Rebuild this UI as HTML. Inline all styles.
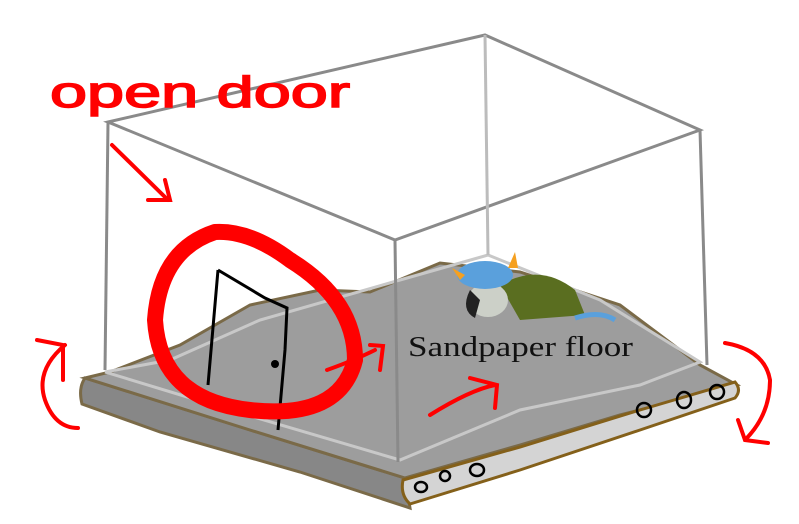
<!DOCTYPE html>
<html><head><style>
html,body{margin:0;padding:0;background:#fff;}
svg{display:block;}
</style></head><body>
<svg width="799" height="524" viewBox="0 0 799 524" xmlns="http://www.w3.org/2000/svg">
<!-- left slab -->
<path d="M85,378 Q78,388 82,404 L160,432 L300,472 L410,508 L405,478 L250,430 Z" fill="#878787" stroke="#7a6a48" stroke-width="3"/>
<!-- floor top -->
<path d="M85,378 L110,372 L180,345 L250,305 L320,290 L370,292 L440,263 L520,272 L620,305 L700,365 L737,385 L620,415 L520,445 L405,478 L250,430 Z" fill="#9d9d9d" stroke="#7a6a48" stroke-width="3"/>
<!-- light inner edges -->
<path d="M105,372 L170,360 L260,320 L400,280 L488,255 L600,300 L700,362 L640,385 L520,410 L400,460 L230,410 L105,372" fill="none" stroke="#c8c8c8" stroke-width="3"/>
<!-- right slab -->
<path d="M403,480 L520,447 L640,410 L735,382 Q742,390 735,398 L640,430 L520,470 L410,504 Q400,495 403,480 Z" fill="#d4d4d4" stroke="#84601a" stroke-width="3"/>
<g fill="none" stroke="#000" stroke-width="2.5">
<ellipse cx="421" cy="487" rx="6" ry="5"/><ellipse cx="445" cy="476" rx="5" ry="5"/><ellipse cx="477" cy="470" rx="7" ry="6"/>
<ellipse cx="644" cy="410" rx="7" ry="7"/><ellipse cx="684" cy="400" rx="7" ry="8"/><ellipse cx="717" cy="392" rx="7" ry="7"/>
</g>
<!-- glass box -->
<g fill="none" stroke="#8a8a8a" stroke-width="3">
<path d="M108,122 L485,35 L700,130 L395,240 Z"/>
<path d="M108,122 L105,370"/>
<path d="M395,240 L398,462"/>
<path d="M700,130 L707,365"/>
</g>
<path d="M485,35 L488,255" stroke="#bcbcbc" stroke-width="3"/>
<!-- character -->
<path d="M500,285 Q540,262 575,290 L585,315 L520,320 Z" fill="#5a6e20"/>
<path d="M575,318 Q600,310 615,320" stroke="#5aa0dc" stroke-width="5" fill="none"/>
<ellipse cx="488" cy="300" rx="20" ry="17" fill="#ccd0c8"/>
<path d="M470,290 Q460,310 475,318 L480,300 Z" fill="#222"/>
<ellipse cx="485" cy="275" rx="28" ry="14" fill="#5aa0dc"/>
<path d="M452,268 L465,275 L460,280Z M515,252 L508,268 L518,268Z" fill="#f5a020"/>
<!-- door -->
<path d="M218,270 L208,385 M218,270 L265,298 L287,308 L285,350 L278,430" fill="none" stroke="#000" stroke-width="3"/>
<circle cx="275" cy="364" r="4" fill="#000"/>
<!-- red -->
<g fill="none" stroke="#f00" stroke-linecap="round">
<path d="M215,232 Q160,250 155,320 Q160,400 250,410 Q340,420 355,360 Q355,300 290,260 Q250,230 215,232 Z" stroke-width="16"/>
<path d="M112,145 L168,200 M148,200 L170,200 L165,180" stroke-width="4"/>
<path d="M327,370 Q355,360 375,350 M370,345 L383,346 L380,370" stroke-width="4"/>
<path d="M430,415 Q470,390 495,385 M470,378 L497,385 L495,408" stroke-width="4"/>
<path d="M65,345 Q35,370 45,400 Q55,428 78,428 M37,340 L63,345 L63,380" stroke-width="4"/>
<path d="M725,343 Q765,350 770,380 Q770,415 745,440 M738,420 L745,440 L768,443" stroke-width="4"/>
</g>
<text x="50" y="107" font-family="'Liberation Sans',sans-serif" font-size="44" fill="#f00" stroke="#f00" stroke-width="1.5" textLength="300" lengthAdjust="spacingAndGlyphs">open door</text>
<text x="408" y="356" font-family="'Liberation Serif',serif" font-size="29" fill="#111" textLength="225" lengthAdjust="spacingAndGlyphs">Sandpaper floor</text>
</svg>
</body></html>
